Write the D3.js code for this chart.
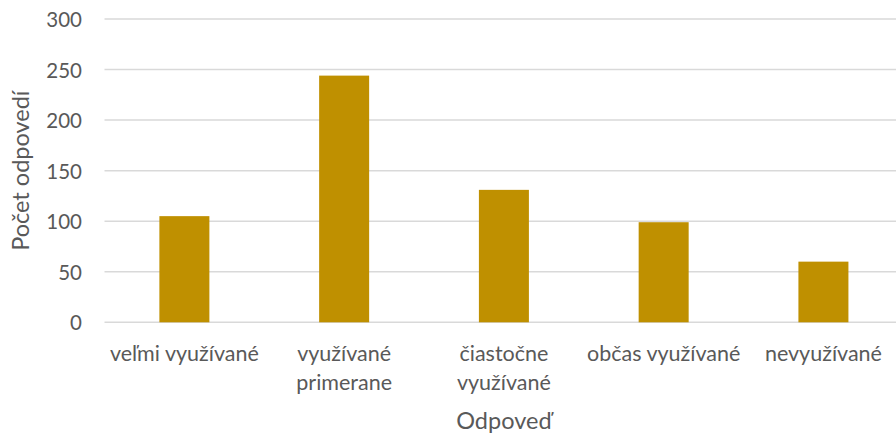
<!DOCTYPE html>
<html>
<head>
<meta charset="utf-8">
<script src="https://cdn.jsdelivr.net/npm/d3@7"></script>
<style>
  html, body { margin: 0; padding: 0; background: #fff; }
  svg { display: block; }
  text { font-family: Lato, "Noto Sans", sans-serif; fill: #595959; }
</style>
</head>
<body>
<svg id="chart" width="896" height="437"></svg>
<script>
const categories = ["veľmi využívané", "využívané primerane", "čiastočne využívané", "občas využívané", "nevyužívané"];
const categoryLines = [["veľmi využívané"], ["využívané", "primerane"], ["čiastočne", "využívané"], ["občas využívané"], ["nevyužívané"]];
const values = [105, 244, 131, 99, 60];
const yTicks = [0, 50, 100, 150, 200, 250, 300];
const xTitle = "Odpoveď";
const yTitle = "Počet odpovedí";

const svg = d3.select("#chart");
const mLeft = 104.5, mRight = 903.3, mTop = 19, mBottom = 322.3;

const x = d3.scaleBand().domain(categories).range([mLeft, mRight]).padding(0);
const y = d3.scaleLinear().domain([0, 300]).range([mBottom, mTop]);
const barW = x.bandwidth() * 0.313;

// gridlines
svg.append("g").selectAll("line").data(yTicks).join("line")
  .attr("x1", mLeft).attr("x2", mRight)
  .attr("y1", d => y(d)).attr("y2", d => y(d))
  .attr("stroke", "#d9d9d9").attr("stroke-width", 1.5);

// y tick labels
svg.append("g").selectAll("text").data(yTicks).join("text")
  .attr("x", 82).attr("y", d => y(d))
  .attr("text-anchor", "end").attr("dominant-baseline", "central")
  .style("font-size", "20.5px")
  .text(d => d);

// bars
svg.append("g").selectAll("rect").data(values).join("rect")
  .attr("x", (d, i) => x(categories[i]) + x.bandwidth() / 2 - barW / 2)
  .attr("width", barW)
  .attr("y", d => y(d))
  .attr("height", d => y(0) - y(d))
  .attr("fill", "#BF9000");

// category labels
const cat = svg.append("g").selectAll("text").data(categoryLines).join("text")
  .attr("text-anchor", "middle")
  .style("font-size", "21.5px")
  .attr("transform", (d, i) => `translate(${x(categories[i]) + x.bandwidth() / 2},361)`);
cat.selectAll("tspan").data(d => d).join("tspan")
  .attr("x", 0).attr("dy", (d, j) => j === 0 ? 0 : 28.5)
  .text(d => d);

// axis titles
svg.append("text").attr("x", (mLeft + mRight) / 2).attr("y", 429)
  .attr("text-anchor", "middle").style("font-size", "23.5px").text(xTitle);
svg.append("text")
  .attr("transform", `translate(29,${(mTop + mBottom) / 2}) rotate(-90)`)
  .attr("text-anchor", "middle").style("font-size", "23.5px").text(yTitle);
</script>
</body>
</html>
